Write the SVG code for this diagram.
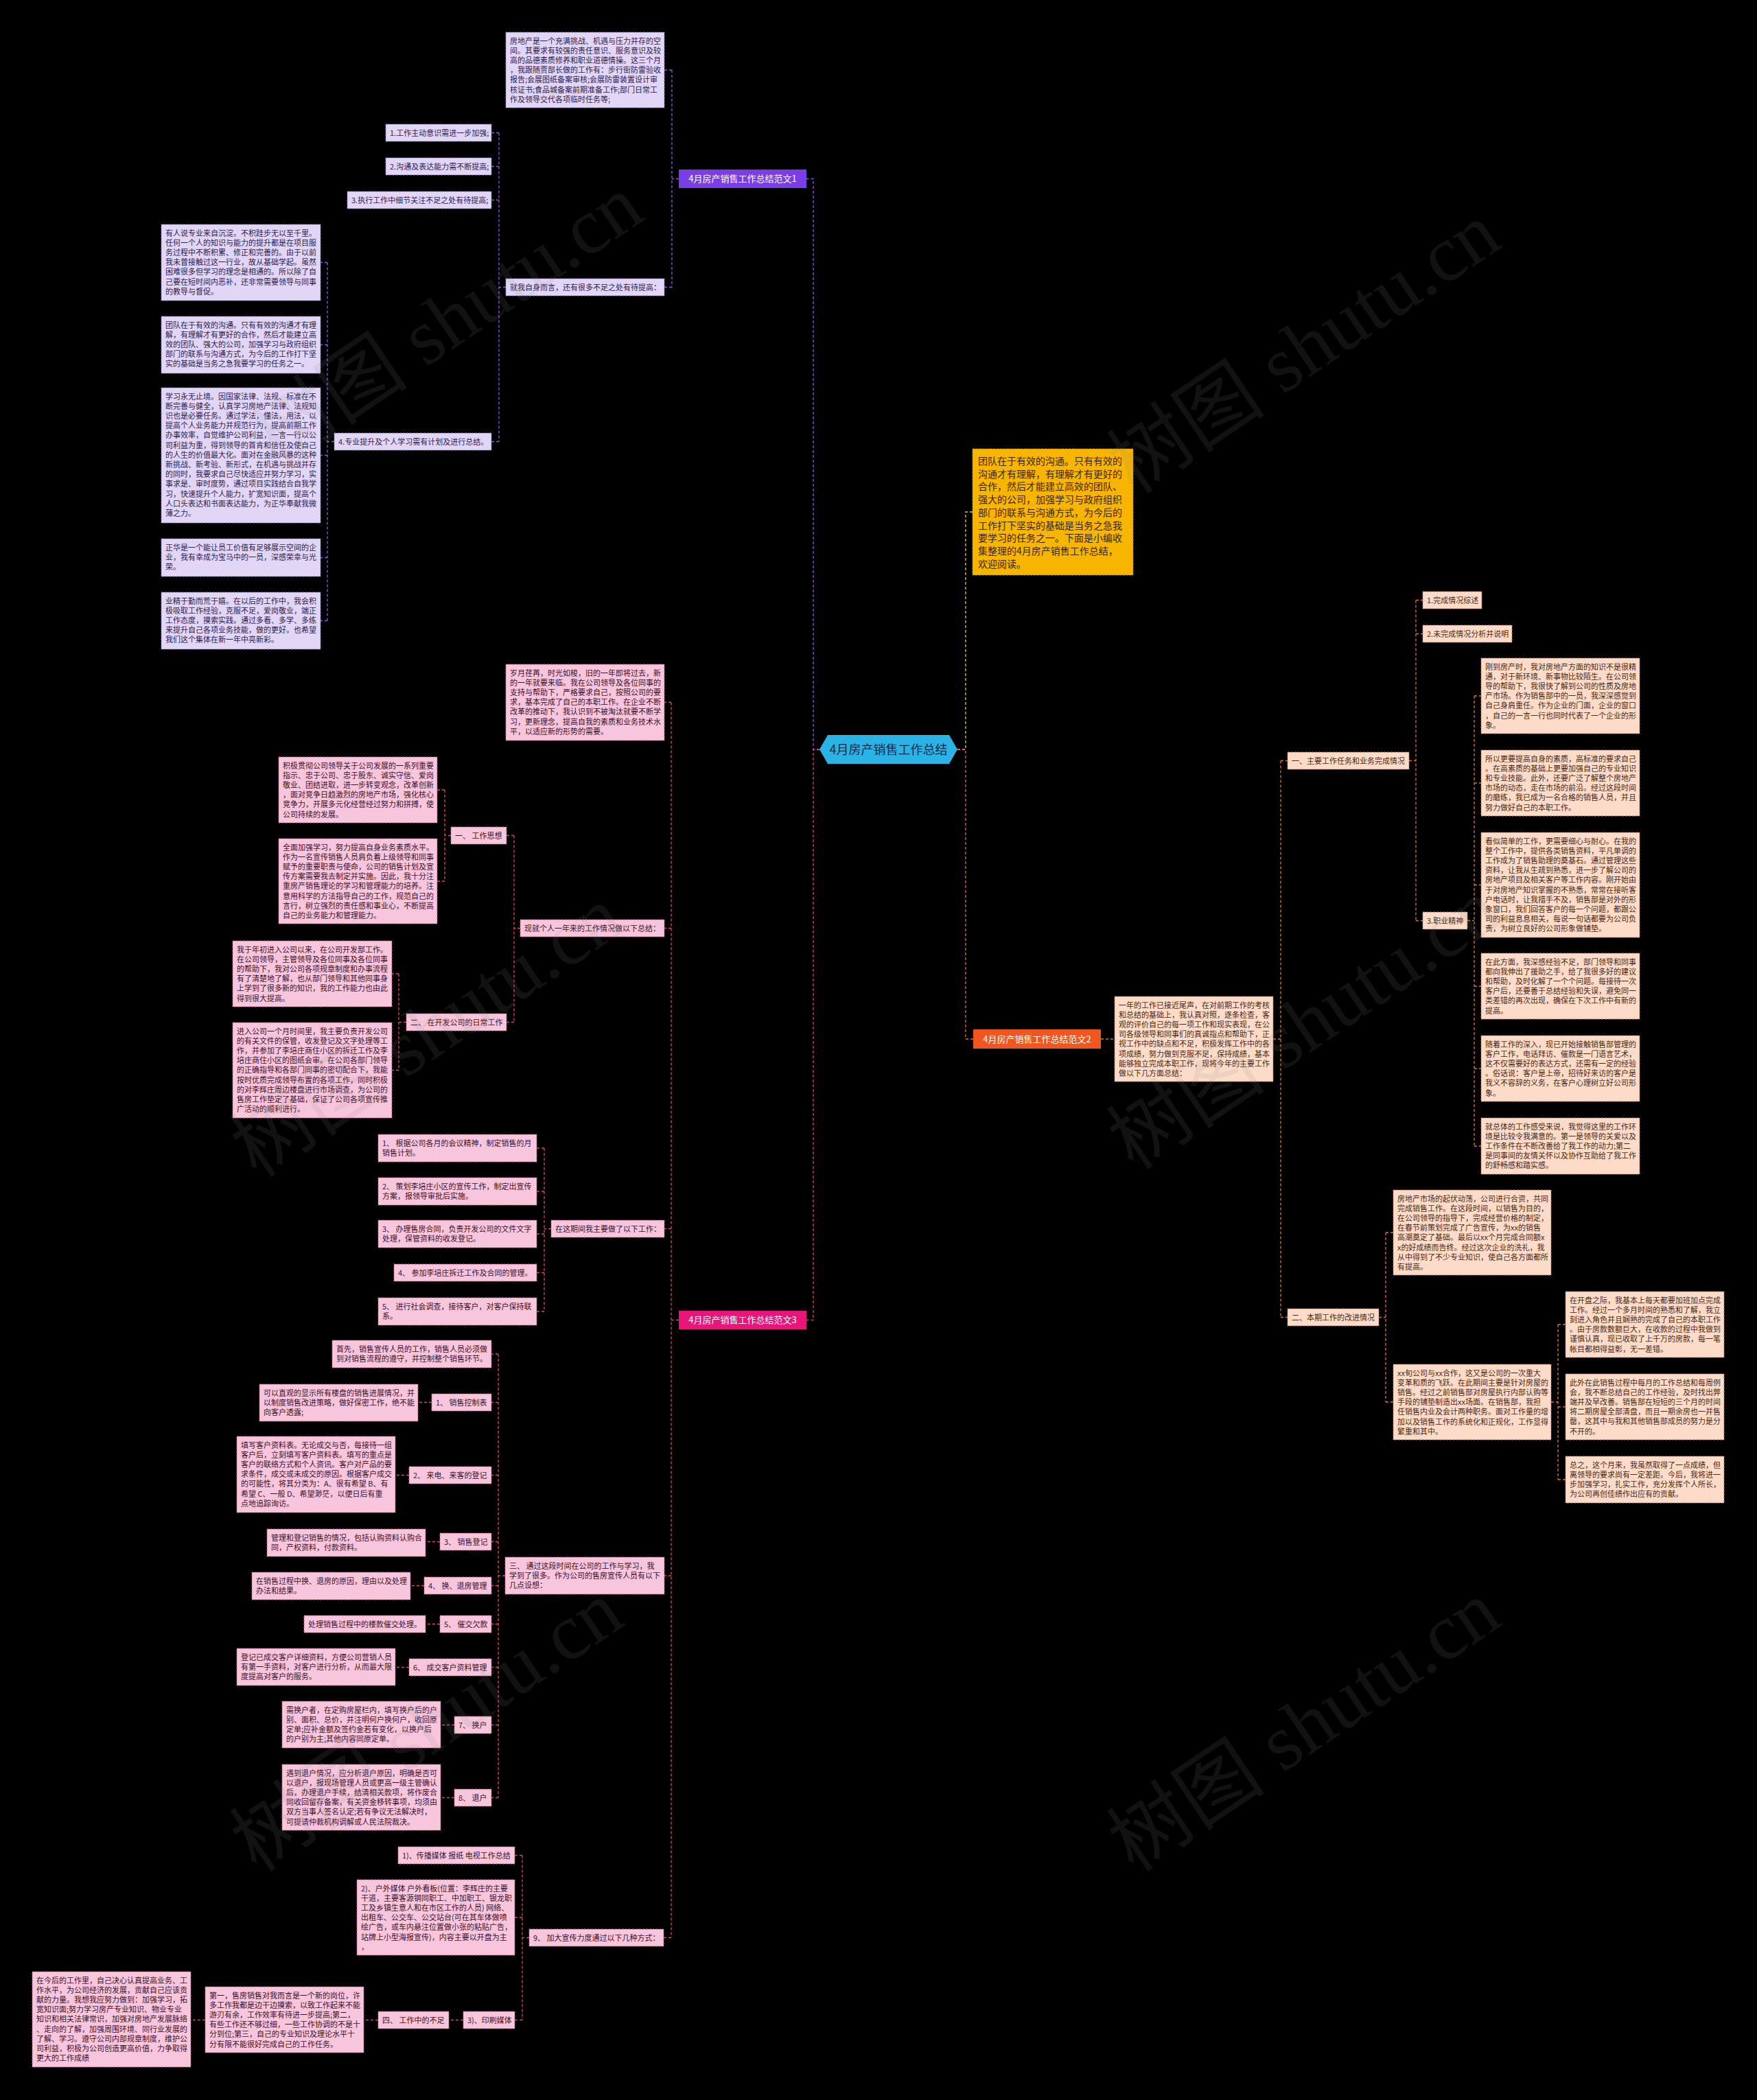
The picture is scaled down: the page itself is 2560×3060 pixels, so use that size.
<svg xmlns="http://www.w3.org/2000/svg" width="2560" height="3060" viewBox="0 0 2560 3060">
<style>
.t{font-family:"Noto Sans CJK SC","Noto Sans",sans-serif;font-size:11px}
.t1{fill:#2d2250}.t2{fill:#4a2814}.t3{fill:#3d1029}
.b1{fill:#e2d6f6;stroke:#8c74c4;stroke-width:1;stroke-dasharray:3 2}
.b2{fill:#fcdcc8;stroke:#b9785c;stroke-width:1;stroke-dasharray:3 2}
.b3{fill:#f8c6dc;stroke:#c25a88;stroke-width:1;stroke-dasharray:3 2}
.c{fill:none;stroke-width:1.3;stroke-dasharray:4 3}
.c1{stroke:#8a5ce6}.c2{stroke:#e07040}.c3{stroke:#e0407c}.cy{stroke:#f2c838}
.lb{font-family:"Noto Sans CJK SC","Noto Sans",sans-serif;font-size:13px;fill:#ffffff;text-anchor:middle}
.wm{font-family:"Liberation Serif","Noto Sans CJK SC",serif;font-size:116px;fill:#8a8a8a;fill-opacity:0.13;text-anchor:middle}
</style>
<rect x="0" y="0" width="2560" height="3060" fill="#000000"/>

<g id="connectors">
<path class="c c1" d="M1194 1092H1185V260.5H1175"/>
<path class="c c3" d="M1194 1092H1185V1923.5H1175"/>
<path class="c cy" d="M1395 1092H1407V746H1417"/>
<path class="c c2" d="M1395 1092H1407V1514H1418"/>
<!-- branch 1 -->
<path class="c c1" d="M989 260.5H979M979 102V418.5M979 102H968M979 418.5H968"/>
<path class="c c1" d="M737 418.5H727M727 193.5V643.5M727 193.5H716M727 242.5H716M727 291.5H716M727 643.5H716"/>
<path class="c c1" d="M487 643.5H477M477 382.5V904.5M477 382.5H467M477 502.5H467M477 663.5H467M477 812.5H467M477 904.5H467"/>
<!-- branch 2 -->
<path class="c c2" d="M1604 1514H1624"/>
<path class="c c2" d="M1855 1514H1866M1866 1108.5V1919.5M1866 1108.5H1876M1866 1919.5H1876"/>
<path class="c c2" d="M2053 1108.5H2063M2063 874.5V1341.5M2063 874.5H2073M2063 923.5H2073M2063 1341.5H2073"/>
<path class="c c2" d="M2138 1341.5H2148M2148 1014V1670M2148 1014H2158M2148 1141H2158M2148 1289.5H2158M2148 1437H2158M2148 1557H2158M2148 1670H2158"/>
<path class="c c2" d="M2009 1919.5H2019M2019 1796V2043M2019 1796H2030M2019 2043H2030"/>
<path class="c c2" d="M2260 2043H2270M2270 1930V2156M2270 1930H2281M2270 2050H2281M2270 2156H2281"/>
<!-- branch 3 -->
<path class="c c3" d="M989 1923.5H978M978 1023.5V2823.5M978 1023.5H968M978 1352.5H968M978 1790.5H968M978 2296H968M978 2823.5H967"/>
<path class="c c3" d="M758 1352.5H749M749 1217.5V1489.5M749 1217.5H738M749 1489.5H738"/>
<path class="c c3" d="M657 1217.5H648M648 1151V1284M648 1151H637M648 1284H637"/>
<path class="c c3" d="M592 1489.5H581M581 1419V1559.5M581 1419H571M581 1559.5H571"/>
<path class="c c3" d="M803 1790.5H793M793 1673V1911M793 1673H782M793 1736H782M793 1798H782M793 1854.5H782M793 1911H782"/>
<path class="c c3" d="M736 2296H726M726 1973V2619.5M726 1973H716M726 2043.5H716M726 2149.5H716M726 2246.5H716M726 2310.5H716M726 2366.5H716M726 2429.5H716M726 2513.5H716M726 2619.5H716"/>
<path class="c c3" d="M629 2043.5H609M596 2149.5H576M641 2246.5H620M618 2310.5H598M641 2366.5H620M596 2429.5H576M662 2513.5H642M662 2619.5H642"/>
<path class="c c3" d="M771 2823.5H761M761 2703.5V2943.5M761 2703.5H750M761 2794H750M761 2943.5H750"/>
<path class="c c3" d="M675 2943.5H654M551 2943.5H530M299 2943.5H278"/>
</g>

<g id="root">
<polygon points="1194,1092 1206,1071 1383,1071 1395,1092 1383,1113 1206,1113" fill="#2bb3e6"/>
<text x="1294.5" y="1098.5" font-family="Noto Sans CJK SC, Noto Sans, sans-serif" font-size="18" fill="#0d2b4d" text-anchor="middle">4月房产销售工作总结</text>
</g>

<g id="intro">
<rect x="1417" y="654" width="234" height="184" fill="#f7b500" stroke="#b88400" stroke-width="1" stroke-dasharray="3 2"/>
<text x="1425" y="677" font-family="Noto Sans CJK SC, Noto Sans, sans-serif" font-size="14" fill="#3b2500"><tspan x="1425">团队在于有效的沟通。只有有效的</tspan><tspan x="1425" dy="18.7">沟通才有理解，有理解才有更好的</tspan><tspan x="1425" dy="18.7">合作，然后才能建立高效的团队、</tspan><tspan x="1425" dy="18.7">强大的公司，加强学习与政府组织</tspan><tspan x="1425" dy="18.7">部门的联系与沟通方式，为今后的</tspan><tspan x="1425" dy="18.7">工作打下坚实的基础是当务之急我</tspan><tspan x="1425" dy="18.7">要学习的任务之一。下面是小编收</tspan><tspan x="1425" dy="18.7">集整理的4月房产销售工作总结，</tspan><tspan x="1425" dy="18.7">欢迎阅读。</tspan></text>
</g>

<!-- ============ Branch 1 ============ -->
<g id="branch1"><rect x="989" y="247" width="186" height="27" fill="#7a3ee6"/><text class="lb" x="1082" y="265">4月房产销售工作总结范文1</text></g>

<g id="b1-intro"><rect class="b1" x="737" y="47" width="231" height="110"/><text class="t t1" x="743" y="63.6"><tspan x="743">房地产是一个充满挑战、机遇与压力并存的空</tspan><tspan x="743" dy="14.2">间。其要求有较强的责任意识、服务意识及较</tspan><tspan x="743" dy="14.2">高的品德素质修养和职业道德情操。这三个月</tspan><tspan x="743" dy="14.2">，我跟随贾部长做的工作有：步行街防雷验收</tspan><tspan x="743" dy="14.2">报告;会展图纸备案审核;会展防雷装置设计审</tspan><tspan x="743" dy="14.2">核证书;食品城备案前期准备工作;部门日常工</tspan><tspan x="743" dy="14.2">作及领导交代各项临时任务等;</tspan></text></g>

<g id="b1-self"><rect class="b1" x="737" y="406" width="231" height="25"/><text class="t t1" x="743" y="422.6">就我自身而言，还有很多不足之处有待提高：</text></g>
<g id="b1-i1"><rect class="b1" x="562" y="181" width="154" height="25"/><text class="t t1" x="568" y="197.6">1.工作主动意识需进一步加强;</text></g>
<g id="b1-i2"><rect class="b1" x="562" y="230" width="154" height="25"/><text class="t t1" x="568" y="246.6">2.沟通及表达能力需不断提高;</text></g>
<g id="b1-i3"><rect class="b1" x="506" y="279" width="210" height="25"/><text class="t t1" x="512" y="295.6">3.执行工作中细节关注不足之处有待提高;</text></g>
<g id="b1-i4"><rect class="b1" x="487" y="631" width="229" height="25"/><text class="t t1" x="493" y="647.6">4.专业提升及个人学习需有计划及进行总结。</text></g>

<g id="b1-a"><rect class="b1" x="235" y="327" width="232" height="111"/><text class="t t1" x="241" y="343.6"><tspan x="241">有人说专业来自沉淀。不积跬步无以至千里。</tspan><tspan x="241" dy="14.2">任何一个人的知识与能力的提升都是在项目服</tspan><tspan x="241" dy="14.2">务过程中不断积累、修正和完善的。由于以前</tspan><tspan x="241" dy="14.2">我未曾接触过这一行业，故从基础学起。虽然</tspan><tspan x="241" dy="14.2">困难很多但学习的理念是相通的。所以除了自</tspan><tspan x="241" dy="14.2">己要在短时间内恶补，还非常需要领导与同事</tspan><tspan x="241" dy="14.2">的教导与督促。</tspan></text></g>

<g id="b1-b"><rect class="b1" x="235" y="461" width="232" height="83"/><text class="t t1" x="241" y="477.6"><tspan x="241">团队在于有效的沟通。只有有效的沟通才有理</tspan><tspan x="241" dy="14.2">解，有理解才有更好的合作，然后才能建立高</tspan><tspan x="241" dy="14.2">效的团队、强大的公司，加强学习与政府组织</tspan><tspan x="241" dy="14.2">部门的联系与沟通方式，为今后的工作打下坚</tspan><tspan x="241" dy="14.2">实的基础是当务之急我要学习的任务之一。</tspan></text></g>

<g id="b1-c"><rect class="b1" x="235" y="565" width="232" height="197"/><text class="t t1" x="241" y="581.6"><tspan x="241">学习永无止境。因国家法律、法规、标准在不</tspan><tspan x="241" dy="14.2">断完善与健全，认真学习房地产法律、法规知</tspan><tspan x="241" dy="14.2">识也是必要任务。通过学法，懂法，用法，以</tspan><tspan x="241" dy="14.2">提高个人业务能力并规范行为，提高前期工作</tspan><tspan x="241" dy="14.2">办事效率，自觉维护公司利益，一言一行以公</tspan><tspan x="241" dy="14.2">司利益为重，得到领导的首肯和信任及使自己</tspan><tspan x="241" dy="14.2">的人生的价值最大化。面对在金融风暴的这种</tspan><tspan x="241" dy="14.2">新挑战、新考验、新形式，在机遇与挑战并存</tspan><tspan x="241" dy="14.2">的同时，我要求自己尽快适应并努力学习，实</tspan><tspan x="241" dy="14.2">事求是、审时度势，通过项目实践结合自我学</tspan><tspan x="241" dy="14.2">习，快速提升个人能力，扩宽知识面，提高个</tspan><tspan x="241" dy="14.2">人口头表达和书面表达能力，为正华奉献我微</tspan><tspan x="241" dy="14.2">薄之力。</tspan></text></g>

<g id="b1-d"><rect class="b1" x="235" y="785" width="232" height="55"/><text class="t t1" x="241" y="801.6"><tspan x="241">正华是一个能让员工价值有足够展示空间的企</tspan><tspan x="241" dy="14.2">业，我有幸成为宝马中的一员，深感荣幸与光</tspan><tspan x="241" dy="14.2">荣。</tspan></text></g>

<g id="b1-e"><rect class="b1" x="235" y="863" width="232" height="83"/><text class="t t1" x="241" y="879.6"><tspan x="241">业精于勤而荒于嬉。在以后的工作中，我会积</tspan><tspan x="241" dy="14.2">极吸取工作经验，克服不足，爱岗敬业，端正</tspan><tspan x="241" dy="14.2">工作态度，摸索实践。通过多看、多学、多练</tspan><tspan x="241" dy="14.2">来提升自己各项业务技能，做的更好。也希望</tspan><tspan x="241" dy="14.2">我们这个集体在新一年中亮新彩。</tspan></text></g>

<!-- ============ Branch 2 ============ -->
<g id="branch2"><rect x="1418" y="1500" width="186" height="28" fill="#f0561e"/><text class="lb" x="1511" y="1518.5">4月房产销售工作总结范文2</text></g>

<g id="b2-intro"><rect class="b2" x="1624" y="1452" width="231" height="124"/><text class="t t2" x="1630" y="1468.6"><tspan x="1630">一年的工作已接近尾声，在对前期工作的考核</tspan><tspan x="1630" dy="14.2">和总结的基础上，我认真对照，逐条检查，客</tspan><tspan x="1630" dy="14.2">观的评价自己的每一项工作和现实表现，在公</tspan><tspan x="1630" dy="14.2">司各级领导和同事们的真诚指点和帮助下，正</tspan><tspan x="1630" dy="14.2">视工作中的缺点和不足，积极发挥工作中的各</tspan><tspan x="1630" dy="14.2">项成绩，努力做到克服不足，保持成绩，基本</tspan><tspan x="1630" dy="14.2">能够独立完成本职工作，现将今年的主要工作</tspan><tspan x="1630" dy="14.2">做以下几方面总结：</tspan></text></g>

<g id="b2-s1"><rect class="b2" x="1876" y="1096" width="177" height="25"/><text class="t t2" x="1882" y="1112.6">一、主要工作任务和业务完成情况</text></g>
<g id="b2-s2"><rect class="b2" x="1876" y="1907" width="133" height="25"/><text class="t t2" x="1882" y="1923.6">二、本期工作的改进情况</text></g>

<g id="b2-c1"><rect class="b2" x="2073" y="862" width="86" height="25"/><text class="t t2" x="2079" y="878.6">1.完成情况综述</text></g>
<g id="b2-c2"><rect class="b2" x="2073" y="911" width="130" height="25"/><text class="t t2" x="2079" y="927.6">2.未完成情况分析并说明</text></g>
<g id="b2-c3"><rect class="b2" x="2073" y="1329" width="65" height="25"/><text class="t t2" x="2079" y="1345.6">3.职业精神</text></g>

<g id="b2-p1"><rect class="b2" x="2158" y="959" width="231" height="110"/><text class="t t2" x="2164" y="975.6"><tspan x="2164">刚到房产时，我对房地产方面的知识不是很精</tspan><tspan x="2164" dy="14.2">通，对于新环境、新事物比较陌生。在公司领</tspan><tspan x="2164" dy="14.2">导的帮助下，我很快了解到公司的性质及房地</tspan><tspan x="2164" dy="14.2">产市场。作为销售部中的一员，我深深感觉到</tspan><tspan x="2164" dy="14.2">自己身肩重任。作为企业的门面，企业的窗口</tspan><tspan x="2164" dy="14.2">，自己的一言一行也同时代表了一个企业的形</tspan><tspan x="2164" dy="14.2">象。</tspan></text></g>

<g id="b2-p2"><rect class="b2" x="2158" y="1093" width="231" height="96"/><text class="t t2" x="2164" y="1109.6"><tspan x="2164">所以更要提高自身的素质，高标准的要求自己</tspan><tspan x="2164" dy="14.2">。在高素质的基础上更要加强自己的专业知识</tspan><tspan x="2164" dy="14.2">和专业技能。此外，还要广泛了解整个房地产</tspan><tspan x="2164" dy="14.2">市场的动态，走在市场的前沿。经过这段时间</tspan><tspan x="2164" dy="14.2">的磨练，我已成为一名合格的销售人员，并且</tspan><tspan x="2164" dy="14.2">努力做好自己的本职工作。</tspan></text></g>

<g id="b2-p3"><rect class="b2" x="2158" y="1213" width="231" height="153"/><text class="t t2" x="2164" y="1229.6"><tspan x="2164">看似简单的工作，更需要细心与耐心。在我的</tspan><tspan x="2164" dy="14.2">整个工作中，提供各类销售资料，平凡单调的</tspan><tspan x="2164" dy="14.2">工作成为了销售助理的奠基石。通过管理这些</tspan><tspan x="2164" dy="14.2">资料，让我从生疏到熟悉，进一步了解公司的</tspan><tspan x="2164" dy="14.2">房地产项目及相关客户等工作内容。刚开始由</tspan><tspan x="2164" dy="14.2">于对房地产知识掌握的不熟悉，常常在接听客</tspan><tspan x="2164" dy="14.2">户电话时，让我措手不及，销售部是对外的形</tspan><tspan x="2164" dy="14.2">象窗口，我们回答客户的每一个问题，都跟公</tspan><tspan x="2164" dy="14.2">司的利益息息相关，每说一句话都要为公司负</tspan><tspan x="2164" dy="14.2">责，为树立良好的公司形象做铺垫。</tspan></text></g>

<g id="b2-p4"><rect class="b2" x="2158" y="1389" width="231" height="96"/><text class="t t2" x="2164" y="1405.6"><tspan x="2164">在此方面，我深感经验不足，部门领导和同事</tspan><tspan x="2164" dy="14.2">都向我伸出了援助之手，给了我很多好的建议</tspan><tspan x="2164" dy="14.2">和帮助，及时化解了一个个问题。每接待一次</tspan><tspan x="2164" dy="14.2">客户后，还要善于总结经验和失误，避免同一</tspan><tspan x="2164" dy="14.2">类差错的再次出现，确保在下次工作中有新的</tspan><tspan x="2164" dy="14.2">提高。</tspan></text></g>

<g id="b2-p5"><rect class="b2" x="2158" y="1509" width="231" height="96"/><text class="t t2" x="2164" y="1525.6"><tspan x="2164">随着工作的深入，现已开始接触销售部管理的</tspan><tspan x="2164" dy="14.2">客户工作，电话拜访、催款是一门语言艺术，</tspan><tspan x="2164" dy="14.2">这不仅需要好的表达方式，还需有一定的经验</tspan><tspan x="2164" dy="14.2">。俗话说：客户是上帝，招待好来访的客户是</tspan><tspan x="2164" dy="14.2">我义不容辞的义务，在客户心理树立好公司形</tspan><tspan x="2164" dy="14.2">象。</tspan></text></g>

<g id="b2-p6"><rect class="b2" x="2158" y="1629" width="231" height="82"/><text class="t t2" x="2164" y="1645.6"><tspan x="2164">就总体的工作感受来说，我觉得这里的工作环</tspan><tspan x="2164" dy="14.2">境是比较令我满意的。第一是领导的关爱以及</tspan><tspan x="2164" dy="14.2">工作条件在不断改善给了我工作的动力;第二</tspan><tspan x="2164" dy="14.2">是同事间的友情关怀以及协作互助给了我工作</tspan><tspan x="2164" dy="14.2">的舒畅感和踏实感。</tspan></text></g>

<g id="b2-q1"><rect class="b2" x="2030" y="1734" width="230" height="124"/><text class="t t2" x="2036" y="1750.6"><tspan x="2036">房地产市场的起伏动荡，公司进行合资，共同</tspan><tspan x="2036" dy="14.2">完成销售工作。在这段时间，以销售为目的，</tspan><tspan x="2036" dy="14.2">在公司领导的指导下，完成经营价格的制定，</tspan><tspan x="2036" dy="14.2">在春节前策划完成了广告宣传，为xx的销售</tspan><tspan x="2036" dy="14.2">高潮奠定了基础。最后以xx个月完成合同额x</tspan><tspan x="2036" dy="14.2">x的好成绩而告终。经过这次企业的洗礼，我</tspan><tspan x="2036" dy="14.2">从中得到了不少专业知识，使自己各方面都所</tspan><tspan x="2036" dy="14.2">有提高。</tspan></text></g>

<g id="b2-q2"><rect class="b2" x="2030" y="1988" width="230" height="110"/><text class="t t2" x="2036" y="2004.6"><tspan x="2036">xx旬公司与xx合作，这又是公司的一次重大</tspan><tspan x="2036" dy="14.2">变革和质的飞跃。在此期间主要是针对房屋的</tspan><tspan x="2036" dy="14.2">销售。经过之前销售部对房屋执行内部认购等</tspan><tspan x="2036" dy="14.2">手段的铺垫制造出xx场面。在销售部，我担</tspan><tspan x="2036" dy="14.2">任销售内业及会计两种职务。面对工作量的增</tspan><tspan x="2036" dy="14.2">加以及销售工作的系统化和正规化，工作显得</tspan><tspan x="2036" dy="14.2">繁重和其中。</tspan></text></g>

<g id="b2-r1"><rect class="b2" x="2281" y="1882" width="231" height="96"/><text class="t t2" x="2287" y="1898.6"><tspan x="2287">在开盘之际，我基本上每天都要加班加点完成</tspan><tspan x="2287" dy="14.2">工作。经过一个多月时间的熟悉和了解，我立</tspan><tspan x="2287" dy="14.2">刻进入角色并且娴熟的完成了自己的本职工作</tspan><tspan x="2287" dy="14.2">。由于房款数额巨大，在收款的过程中我做到</tspan><tspan x="2287" dy="14.2">谨慎认真，现已收取了上千万的房款，每一笔</tspan><tspan x="2287" dy="14.2">帐目都相得益彰，无一差错。</tspan></text></g>

<g id="b2-r2"><rect class="b2" x="2281" y="2002" width="231" height="96"/><text class="t t2" x="2287" y="2018.6"><tspan x="2287">此外在此销售过程中每月的工作总结和每周例</tspan><tspan x="2287" dy="14.2">会，我不断总结自己的工作经验，及时找出弊</tspan><tspan x="2287" dy="14.2">端并及早改善。销售部在短短的三个月的时间</tspan><tspan x="2287" dy="14.2">将二期房屋全部清盘，而且一期余房也一并售</tspan><tspan x="2287" dy="14.2">罄，这其中与我和其他销售部成员的努力是分</tspan><tspan x="2287" dy="14.2">不开的。</tspan></text></g>

<g id="b2-r3"><rect class="b2" x="2281" y="2122" width="231" height="68"/><text class="t t2" x="2287" y="2138.6"><tspan x="2287">总之，这个月来，我虽然取得了一点成绩，但</tspan><tspan x="2287" dy="14.2">离领导的要求尚有一定差距。今后，我将进一</tspan><tspan x="2287" dy="14.2">步加强学习，扎实工作，充分发挥个人所长，</tspan><tspan x="2287" dy="14.2">为公司再创佳绩作出应有的贡献。</tspan></text></g>

<!-- ============ Branch 3 ============ -->
<g id="branch3"><rect x="989" y="1910" width="186" height="27" fill="#e8157a"/><text class="lb" x="1082" y="1928">4月房产销售工作总结范文3</text></g>

<g id="b3-s1"><rect class="b3" x="737" y="968" width="231" height="111"/><text class="t t3" x="743" y="984.6"><tspan x="743">岁月荏苒，时光如梭，旧的一年即将过去，新</tspan><tspan x="743" dy="14.2">的一年就要来临。我在公司领导及各位同事的</tspan><tspan x="743" dy="14.2">支持与帮助下，严格要求自己，按照公司的要</tspan><tspan x="743" dy="14.2">求，基本完成了自己的本职工作。在企业不断</tspan><tspan x="743" dy="14.2">改革的推动下，我认识到不被淘汰就要不断学</tspan><tspan x="743" dy="14.2">习，更新理念，提高自我的素质和业务技术水</tspan><tspan x="743" dy="14.2">平，以适应新的形势的需要。</tspan></text></g>

<g id="b3-sum"><rect class="b3" x="758" y="1340" width="210" height="25"/><text class="t t3" x="764" y="1356.6">现就个人一年来的工作情况做以下总结：</text></g>
<g id="b3-k1"><rect class="b3" x="657" y="1205" width="81" height="25"/><text class="t t3" x="663" y="1221.6">一、 工作思想</text></g>

<g id="b3-t1"><rect class="b3" x="406" y="1103" width="231" height="96"/><text class="t t3" x="412" y="1119.6"><tspan x="412">积极贯彻公司领导关于公司发展的一系列重要</tspan><tspan x="412" dy="14.2">指示、忠于公司、忠于股东、诚实守信、爱岗</tspan><tspan x="412" dy="14.2">敬业、团结进取，进一步转变观念，改革创新</tspan><tspan x="412" dy="14.2">，面对竞争日趋激烈的房地产市场，强化核心</tspan><tspan x="412" dy="14.2">竞争力，开展多元化经营经过努力和拼搏，使</tspan><tspan x="412" dy="14.2">公司持续的发展。</tspan></text></g>

<g id="b3-t2"><rect class="b3" x="406" y="1222" width="231" height="124"/><text class="t t3" x="412" y="1238.6"><tspan x="412">全面加强学习，努力提高自身业务素质水平。</tspan><tspan x="412" dy="14.2">作为一名宣传销售人员肩负着上级领导和同事</tspan><tspan x="412" dy="14.2">赋予的重要职责与使命，公司的销售计划及宣</tspan><tspan x="412" dy="14.2">传方案需要我去制定并实施。因此，我十分注</tspan><tspan x="412" dy="14.2">重房产销售理论的学习和管理能力的培养。注</tspan><tspan x="412" dy="14.2">意用科学的方法指导自己的工作，规范自己的</tspan><tspan x="412" dy="14.2">言行，树立强烈的责任感和事业心，不断提高</tspan><tspan x="412" dy="14.2">自己的业务能力和管理能力。</tspan></text></g>

<g id="b3-k2"><rect class="b3" x="592" y="1477" width="146" height="25"/><text class="t t3" x="598" y="1493.6">二、 在开发公司的日常工作</text></g>

<g id="b3-u1"><rect class="b3" x="339" y="1371" width="232" height="96"/><text class="t t3" x="345" y="1387.6"><tspan x="345">我于年初进入公司以来，在公司开发部工作。</tspan><tspan x="345" dy="14.2">在公司领导，主管领导及各位同事及各位同事</tspan><tspan x="345" dy="14.2">的帮助下，我对公司各项规章制度和办事流程</tspan><tspan x="345" dy="14.2">有了清楚地了解，也从部门领导和其他同事身</tspan><tspan x="345" dy="14.2">上学到了很多新的知识，我的工作能力也由此</tspan><tspan x="345" dy="14.2">得到很大提高。</tspan></text></g>

<g id="b3-u2"><rect class="b3" x="339" y="1490" width="232" height="139"/><text class="t t3" x="345" y="1506.6"><tspan x="345">进入公司一个月时间里，我主要负责开发公司</tspan><tspan x="345" dy="14.2">的有关文件的保管，收发登记及文字处理等工</tspan><tspan x="345" dy="14.2">作，并参加了李培庄商住小区的拆迁工作及李</tspan><tspan x="345" dy="14.2">培庄商住小区的图纸会审。在公司各部门领导</tspan><tspan x="345" dy="14.2">的正确指导和各部门同事的密切配合下，我能</tspan><tspan x="345" dy="14.2">按时优质完成领导布置的各项工作，同时积极</tspan><tspan x="345" dy="14.2">的对李辉庄周边楼盘进行市场调查，为公司的</tspan><tspan x="345" dy="14.2">售房工作垫定了基础，保证了公司各项宣传推</tspan><tspan x="345" dy="14.2">广活动的顺利进行。</tspan></text></g>

<g id="b3-dur"><rect class="b3" x="803" y="1778" width="165" height="25"/><text class="t t3" x="809" y="1794.6">在这期间我主要做了以下工作：</text></g>

<g id="b3-v1"><rect class="b3" x="551" y="1653" width="231" height="40"/><text class="t t3" x="557" y="1669.6"><tspan x="557">1、 根据公司各月的会议精神，制定销售的月</tspan><tspan x="557" dy="14.2">销售计划。</tspan></text></g>
<g id="b3-v2"><rect class="b3" x="551" y="1716" width="231" height="40"/><text class="t t3" x="557" y="1732.6"><tspan x="557">2、 策划李培庄小区的宣传工作，制定出宣传</tspan><tspan x="557" dy="14.2">方案，报领导审批后实施。</tspan></text></g>
<g id="b3-v3"><rect class="b3" x="551" y="1778" width="231" height="40"/><text class="t t3" x="557" y="1794.6"><tspan x="557">3、 办理售房合同，负责开发公司的文件文字</tspan><tspan x="557" dy="14.2">处理，保管资料的收发登记。</tspan></text></g>
<g id="b3-v4"><rect class="b3" x="574" y="1842" width="208" height="25"/><text class="t t3" x="580" y="1858.6">4、 参加李培庄拆迁工作及合同的管理。</text></g>
<g id="b3-v5"><rect class="b3" x="551" y="1891" width="231" height="40"/><text class="t t3" x="557" y="1907.6"><tspan x="557">5、 进行社会调查，接待客户，对客户保持联</tspan><tspan x="557" dy="14.2">系。</tspan></text></g>

<g id="b3-three"><rect class="b3" x="736" y="2269" width="232" height="54"/><text class="t t3" x="742" y="2285.6"><tspan x="742">三、 通过这段时间在公司的工作与学习，我</tspan><tspan x="742" dy="14.2">学到了很多。作为公司的售房宣传人员有以下</tspan><tspan x="742" dy="14.2">几点设想：</tspan></text></g>

<g id="b3-w0"><rect class="b3" x="484" y="1953" width="232" height="40"/><text class="t t3" x="490" y="1969.6"><tspan x="490">首先，销售宣传人员的工作，销售人员必须做</tspan><tspan x="490" dy="14.2">到对销售流程的遵守，并控制整个销售环节。</tspan></text></g>

<g id="b3-w1"><rect class="b3" x="629" y="2031" width="87" height="25"/><text class="t t3" x="635" y="2047.6">1、 销售控制表</text></g>
<g id="b3-w1c"><rect class="b3" x="378" y="2017" width="231" height="54"/><text class="t t3" x="384" y="2033.6"><tspan x="384">可以直观的显示所有楼盘的销售进展情况，并</tspan><tspan x="384" dy="14.2">以制度销售改进策略，做好保密工作，绝不能</tspan><tspan x="384" dy="14.2">向客户透露;</tspan></text></g>

<g id="b3-w2"><rect class="b3" x="596" y="2137" width="120" height="25"/><text class="t t3" x="602" y="2153.6">2、 来电、来客的登记</text></g>
<g id="b3-w2c"><rect class="b3" x="345" y="2093" width="231" height="111"/><text class="t t3" x="351" y="2109.6"><tspan x="351">填写客户资料表。无论成交与否，每接待一组</tspan><tspan x="351" dy="14.2">客户后，立刻填写客户资料表。填写的重点是</tspan><tspan x="351" dy="14.2">客户的联络方式和个人资讯。客户对产品的要</tspan><tspan x="351" dy="14.2">求条件，成交或未成交的原因。根据客户成交</tspan><tspan x="351" dy="14.2">的可能性，将其分类为：A、很有希望 B、有</tspan><tspan x="351" dy="14.2">希望 C、一般 D、希望渺茫，以便日后有重</tspan><tspan x="351" dy="14.2">点地追踪询访。</tspan></text></g>

<g id="b3-w3"><rect class="b3" x="641" y="2234" width="75" height="25"/><text class="t t3" x="647" y="2250.6">3、 销售登记</text></g>
<g id="b3-w3c"><rect class="b3" x="389" y="2228" width="231" height="40"/><text class="t t3" x="395" y="2244.6"><tspan x="395">管理和登记销售的情况，包括认购资料认购合</tspan><tspan x="395" dy="14.2">同，产权资料，付款资料。</tspan></text></g>

<g id="b3-w4"><rect class="b3" x="618" y="2298" width="98" height="25"/><text class="t t3" x="624" y="2314.6">4、 换、退房管理</text></g>
<g id="b3-w4c"><rect class="b3" x="367" y="2291" width="231" height="40"/><text class="t t3" x="373" y="2307.6"><tspan x="373">在销售过程中换、退房的原因，理由以及处理</tspan><tspan x="373" dy="14.2">办法和结果。</tspan></text></g>

<g id="b3-w5"><rect class="b3" x="641" y="2354" width="75" height="25"/><text class="t t3" x="647" y="2370.6">5、 催交欠款</text></g>
<g id="b3-w5c"><rect class="b3" x="443" y="2354" width="177" height="25"/><text class="t t3" x="449" y="2370.6">处理销售过程中的楼款催交处理。</text></g>

<g id="b3-w6"><rect class="b3" x="596" y="2417" width="120" height="25"/><text class="t t3" x="602" y="2433.6">6、 成交客户资料管理</text></g>
<g id="b3-w6c"><rect class="b3" x="345" y="2402" width="231" height="54"/><text class="t t3" x="351" y="2418.6"><tspan x="351">登记已成交客户详细资料，方便公司营销人员</tspan><tspan x="351" dy="14.2">有第一手资料，对客户进行分析，从而最大限</tspan><tspan x="351" dy="14.2">度提高对客户的服务。</tspan></text></g>

<g id="b3-w7"><rect class="b3" x="662" y="2501" width="54" height="25"/><text class="t t3" x="668" y="2517.6">7、 换户</text></g>
<g id="b3-w7c"><rect class="b3" x="411" y="2479" width="231" height="68"/><text class="t t3" x="417" y="2495.6"><tspan x="417">需换户者，在定购房屋栏内，填写换户后的户</tspan><tspan x="417" dy="14.2">别、面积、总价，并注明何户换何户，收回原</tspan><tspan x="417" dy="14.2">定单;应补金额及签约金若有变化，以换户后</tspan><tspan x="417" dy="14.2">的户别为主;其他内容同原定单。</tspan></text></g>

<g id="b3-w8"><rect class="b3" x="662" y="2607" width="54" height="25"/><text class="t t3" x="668" y="2623.6">8、 退户</text></g>
<g id="b3-w8c"><rect class="b3" x="411" y="2571" width="231" height="96"/><text class="t t3" x="417" y="2587.6"><tspan x="417">遇到退户情况，应分析退户原因，明确是否可</tspan><tspan x="417" dy="14.2">以退户，报现场管理人员或更高一级主管确认</tspan><tspan x="417" dy="14.2">后，办理退户手续，结清相关款项，将作废合</tspan><tspan x="417" dy="14.2">同收回留存备案，有关资金移转事项，均须由</tspan><tspan x="417" dy="14.2">双方当事人签名认定;若有争议无法解决时，</tspan><tspan x="417" dy="14.2">可提请仲裁机构调解或人民法院裁决。</tspan></text></g>

<g id="b3-nine"><rect class="b3" x="771" y="2811" width="196" height="25"/><text class="t t3" x="777" y="2827.6">9、 加大宣传力度通过以下几种方式：</text></g>
<g id="b3-m1"><rect class="b3" x="580" y="2691" width="170" height="25"/><text class="t t3" x="586" y="2707.6">1)、传播媒体 报纸 电视工作总结</text></g>
<g id="b3-m2"><rect class="b3" x="520" y="2739" width="230" height="110"/><text class="t t3" x="526" y="2755.6"><tspan x="526">2)、户外媒体 户外看板(位置：李辉庄的主要</tspan><tspan x="526" dy="14.2">干道，主要客源钢同职工、中加职工、银龙职</tspan><tspan x="526" dy="14.2">工及乡镇生意人和在市区工作的人员) 网络、</tspan><tspan x="526" dy="14.2">出租车、公交车、公交站台(可在其车体做喷</tspan><tspan x="526" dy="14.2">绘广告，或车内悬注位置做小张的粘贴广告，</tspan><tspan x="526" dy="14.2">站牌上小型海报宣传)，内容主要以开盘为主</tspan><tspan x="526" dy="14.2">，</tspan></text></g>
<g id="b3-m3"><rect class="b3" x="675" y="2931" width="75" height="25"/><text class="t t3" x="681" y="2947.6">3)、印刷媒体</text></g>
<g id="b3-four"><rect class="b3" x="551" y="2931" width="103" height="25"/><text class="t t3" x="557" y="2947.6">四、 工作中的不足</text></g>

<g id="b3-x1"><rect class="b3" x="299" y="2895" width="231" height="96"/><text class="t t3" x="305" y="2911.6"><tspan x="305">第一，售房销售对我而言是一个新的岗位，许</tspan><tspan x="305" dy="14.2">多工作我都是边干边摸索，以致工作起来不能</tspan><tspan x="305" dy="14.2">游刃有余，工作效率有待进一步提高;第二，</tspan><tspan x="305" dy="14.2">有些工作还不够过细，一些工作协调的不是十</tspan><tspan x="305" dy="14.2">分到位;第三，自己的专业知识及理论水平十</tspan><tspan x="305" dy="14.2">分有限不能很好完成自己的工作任务。</tspan></text></g>

<g id="b3-x2"><rect class="b3" x="47" y="2873" width="231" height="139"/><text class="t t3" x="53" y="2889.6"><tspan x="53">在今后的工作里，自己决心认真提高业务、工</tspan><tspan x="53" dy="14.2">作水平，为公司经济的发展，贡献自己应该贡</tspan><tspan x="53" dy="14.2">献的力量。我想我应努力做到：加强学习，拓</tspan><tspan x="53" dy="14.2">宽知识面;努力学习房产专业知识、物业专业</tspan><tspan x="53" dy="14.2">知识和相关法律常识，加强对房地产发展脉络</tspan><tspan x="53" dy="14.2">、走向的了解，加强周围环境、同行业发展的</tspan><tspan x="53" dy="14.2">了解、学习。遵守公司内部规章制度，维护公</tspan><tspan x="53" dy="14.2">司利益，积极为公司创造更高价值，力争取得</tspan><tspan x="53" dy="14.2">更大的工作成绩</tspan></text></g>

<g id="watermarks">
<text class="wm" transform="translate(673 500) rotate(-34)">树图 shutu.cn</text>
<text class="wm" transform="translate(1922 540) rotate(-34)">树图 shutu.cn</text>
<text class="wm" transform="translate(644 1536) rotate(-34)">树图 shutu.cn</text>
<text class="wm" transform="translate(1922 1525) rotate(-34)">树图 shutu.cn</text>
<text class="wm" transform="translate(644 2548) rotate(-34)">树图 shutu.cn</text>
<text class="wm" transform="translate(1922 2548) rotate(-34)">树图 shutu.cn</text>
</g>
</svg>
